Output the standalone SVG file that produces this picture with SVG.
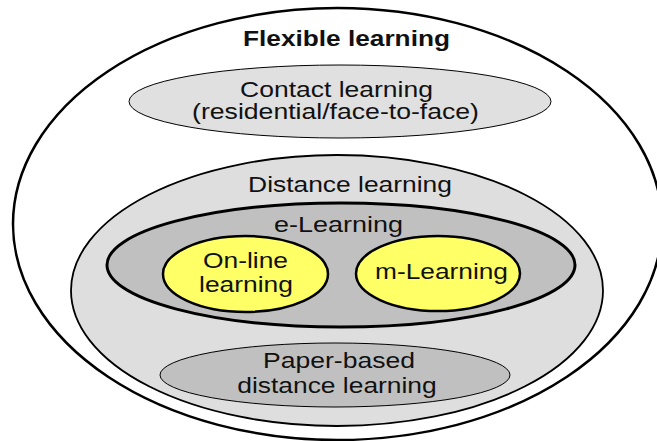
<svg xmlns="http://www.w3.org/2000/svg" width="657" height="441" viewBox="0 0 657 441">
<style>
text{font-family:"Liberation Sans",Arial,sans-serif;fill:#111;text-anchor:middle;font-size:22px;}
.b{font-weight:bold;font-size:21.5px;}
.outer{fill:#fff;stroke:#000;stroke-width:2.5;}
.dist{fill:#dedede;stroke:#000;stroke-width:1.8;}
.cont{fill:#e0e0e0;stroke:#000;stroke-width:1;}
.elearn{fill:#c0c0c0;stroke:#000;stroke-width:3;}
.yel{fill:#ffff66;stroke:#000;stroke-width:2.5;}
.paper{fill:#c0c0c0;stroke:#000;stroke-width:1;}
</style>
<rect width="657" height="441" fill="#fff"/>
<g id="flexible">
<ellipse class="outer" cx="337.5" cy="224" rx="324.5" ry="216"/>
<text class="b" transform="translate(346.5,46) scale(1.22,1)">Flexible learning</text>
</g>
<g id="contact">
<ellipse class="cont" cx="340" cy="101.5" rx="211" ry="36.5"/>
<text transform="translate(336.5,97) scale(1.205,1)">Contact learning</text>
<text transform="translate(335.5,119) scale(1.21,1)">(residential/face-to-face)</text>
</g>
<g id="distance">
<ellipse class="dist" cx="337" cy="290.5" rx="266" ry="135.5"/>
<text transform="translate(350,192) scale(1.2,1)">Distance learning</text>
</g>
<g id="elearning">
<ellipse class="elearn" cx="341" cy="265" rx="234" ry="62"/>
<text transform="translate(338.5,232) scale(1.226,1)">e-Learning</text>
</g>
<g id="online">
<ellipse class="yel" cx="245.5" cy="274" rx="82.5" ry="38"/>
<text transform="translate(245.5,268) scale(1.2,1)">On-line</text>
<text transform="translate(246,292) scale(1.2,1)">learning</text>
</g>
<g id="mlearning">
<ellipse class="yel" cx="438" cy="273.5" rx="82" ry="37.5"/>
<text transform="translate(441.5,279) scale(1.195,1)">m-Learning</text>
</g>
<g id="paper">
<ellipse class="paper" cx="335" cy="375" rx="175" ry="32"/>
<text transform="translate(339,368) scale(1.206,1)">Paper-based</text>
<text transform="translate(337,393) scale(1.2,1)">distance learning</text>
</g>
<g id="connectors"/>
</svg>
